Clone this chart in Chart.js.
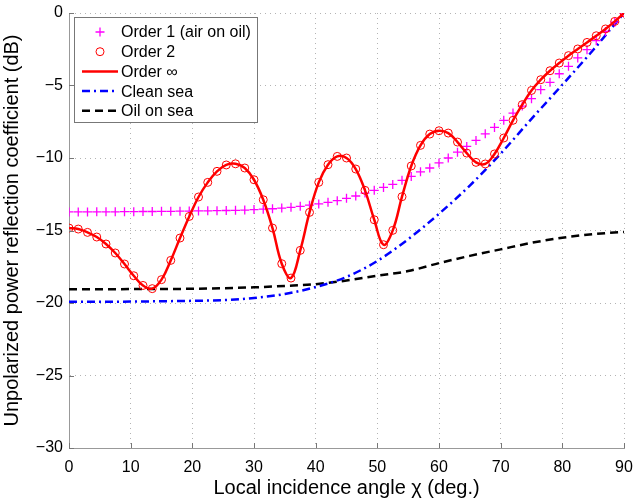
<!DOCTYPE html>
<html>
<head>
<meta charset="utf-8">
<script src="https://cdn.jsdelivr.net/npm/chart.js@4"></script>
<style>
    html, body { margin: 0; padding: 0; background: #fff; }
    #wrap { width: 633px; height: 500px; position: relative; }
</style>
</head>
<body>
<div id="wrap"><canvas id="reflchart" width="633" height="500"></canvas></div>
<script>
// incidence angles of the marker series (deg.)
const angles = [0, 1.5, 3, 4.5, 6, 7.5, 9, 10.5, 12, 13.5, 15, 16.5, 18, 19.5, 21, 22.5, 24, 25.5, 27, 28.5,
    30, 31.5, 33, 34.5, 36, 37.5, 39, 40.5, 42, 43.5, 45, 46.5, 48, 49.5, 51, 52.5, 54, 55.5, 57, 58.5,
    60, 61.5, 63, 64.5, 66, 67.5, 69, 70.5, 72, 73.5, 75, 76.5, 78, 79.5, 81, 82.5, 84, 85.5, 87, 88.5, 90];

const order1 = [-13.72, -13.72, -13.72, -13.71, -13.71, -13.71, -13.70, -13.70, -13.69, -13.69, -13.68, -13.68,
    -13.67, -13.66, -13.65, -13.64, -13.63, -13.62, -13.61, -13.59, -13.56, -13.53, -13.50, -13.45, -13.40,
    -13.33, -13.25, -13.17, -13.06, -12.94, -12.78, -12.62, -12.42, -12.23, -12.03, -11.82, -11.54, -11.27,
    -10.95, -10.69, -10.34, -10.00, -9.60, -9.20, -8.79, -8.33, -7.89, -7.40, -6.90, -6.42, -5.91, -5.29,
    -4.78, -4.19, -3.68, -3.10, -2.53, -1.91, -1.27, -0.63, 0];

const order2 = [-14.83, -14.90, -15.13, -15.45, -15.93, -16.55, -17.31, -18.12, -18.79, -19.01, -18.39, -17.06,
    -15.52, -14.03, -12.69, -11.68, -10.92, -10.48, -10.40, -10.69, -11.50, -12.88, -14.83, -17.29, -18.28,
    -16.37, -13.75, -11.68, -10.46, -9.89, -10.00, -10.76, -12.23, -14.26, -15.98, -14.99, -12.67, -10.55,
    -9.13, -8.35, -8.12, -8.28, -8.90, -9.66, -10.30, -10.41, -9.72, -8.62, -7.40, -6.32, -5.34, -4.60,
    -3.98, -3.45, -2.94, -2.48, -2.03, -1.57, -1.10, -0.58, 0];

// sea curves, read every 5 degrees
const seaAngles = [0, 5, 10, 15, 20, 25, 30, 35, 40, 45, 50, 55, 60, 65, 70, 75, 80, 85, 90];
const cleanSea = [-19.92, -19.92, -19.90, -19.88, -19.85, -19.80, -19.65, -19.38, -18.90, -18.20, -17.10, -15.60,
    -13.85, -11.90, -9.70, -7.30, -4.95, -2.55, 0];
const oilSea = [-19.05, -19.05, -19.04, -19.03, -19.02, -18.98, -18.92, -18.82, -18.70, -18.45, -18.12, -17.80,
    -17.25, -16.75, -16.30, -15.85, -15.50, -15.25, -15.10];

const xTicks = [0, 10, 20, 30, 40, 50, 60, 70, 80, 90];
const yTicks = [-30, -25, -20, -15, -10, -5, 0];

const pts = (xs, ys) => xs.map((x, i) => ({ x: x, y: ys[i] }));
const minus = v => (v < 0 ? '\u2212' + Math.abs(v) : String(v));

// MATLAB style legend box in the top left corner
const boxLegend = {
    id: 'boxLegend',
    afterDatasetsDraw(chart) {
        const ctx = chart.ctx;
        const a = chart.chartArea;
        const x0 = Math.round(a.left) + 5, y0 = Math.round(a.top) + 4;
        const w = 183, h = 105;
        ctx.save();
        ctx.fillStyle = '#fff';
        ctx.fillRect(x0, y0, w, h);
        ctx.strokeStyle = '#777';
        ctx.lineWidth = 1;
        ctx.strokeRect(x0 + 0.5, y0 + 0.5, w, h);
        ctx.font = '16px "Liberation Sans", Arial, sans-serif';
        ctx.textBaseline = 'middle';
        ctx.fillStyle = '#000';
        const sx = x0 + 26, lx1 = x0 + 8, lx2 = x0 + 44, tx = x0 + 47;
        chart.data.datasets.forEach((ds, i) => {
            const y = y0 + 15 + i * 19.7;
            ctx.save();
            ctx.strokeStyle = ds.borderColor;
            if (ds.showLine === false) {
                ctx.lineWidth = ds.pointBorderWidth;
                ctx.beginPath();
                if (ds.pointStyle === 'cross') {
                    ctx.moveTo(sx - 4.5, y); ctx.lineTo(sx + 4.5, y);
                    ctx.moveTo(sx, y - 4.5); ctx.lineTo(sx, y + 4.5);
                } else {
                    ctx.arc(sx, y, ds.pointRadius, 0, Math.PI * 2);
                }
                ctx.stroke();
            } else {
                ctx.lineWidth = ds.borderWidth;
                ctx.setLineDash(ds.borderDash || []);
                ctx.beginPath();
                ctx.moveTo(lx1, y); ctx.lineTo(lx2, y);
                ctx.stroke();
            }
            ctx.restore();
            ctx.fillText(ds.label, tx, y + 1);
        });
        ctx.restore();
    }
};

// small tick marks pointing into the plot
const inwardTicks = {
    id: 'inwardTicks',
    afterDraw(chart) {
        const { ctx, chartArea: a, scales } = chart;
        ctx.save();
        ctx.strokeStyle = '#777';
        ctx.lineWidth = 1;
        ctx.beginPath();
        scales.x.ticks.forEach(t => {
            const px = Math.round(scales.x.getPixelForValue(t.value)) + 0.5;
            ctx.moveTo(px, a.bottom); ctx.lineTo(px, a.bottom - 5);
        });
        scales.y.ticks.forEach(t => {
            const py = Math.round(scales.y.getPixelForValue(t.value)) + 0.5;
            ctx.moveTo(a.left, py); ctx.lineTo(a.left + 5, py);
        });
        ctx.stroke();
        ctx.restore();
    }
};

Chart.defaults.font.family = '"Liberation Sans", Arial, Helvetica, sans-serif';
Chart.defaults.font.size = 16;
Chart.defaults.color = '#000';

const ctx = document.getElementById('reflchart').getContext('2d');

const chart = new Chart(ctx, {
    type: 'line',
    data: {
        datasets: [
            {
                label: 'Order 1 (air on oil)',
                data: pts(angles, order1),
                showLine: false,
                borderColor: '#ff00ff',
                backgroundColor: '#ff00ff',
                pointStyle: 'cross',
                pointRadius: 4.5,
                pointBorderWidth: 1.3,
                order: 3
            },
            {
                label: 'Order 2',
                data: pts(angles, order2),
                showLine: false,
                borderColor: '#ff0000',
                backgroundColor: 'rgba(0,0,0,0)',
                pointStyle: 'circle',
                pointRadius: 4,
                pointBorderWidth: 1,
                order: 1
            },
            {
                label: 'Order \u221e',
                data: pts(angles, order2),
                borderColor: '#ff0000',
                borderWidth: 2.5,
                pointRadius: 0,
                tension: 0.4,
                order: 2
            },
            {
                label: 'Clean sea',
                data: pts(seaAngles, cleanSea),
                borderColor: '#0000ff',
                borderWidth: 2.5,
                borderDash: [8, 4, 2, 4],
                pointRadius: 0,
                cubicInterpolationMode: 'monotone',
                order: 4
            },
            {
                label: 'Oil on sea',
                data: pts(seaAngles, oilSea),
                borderColor: '#000000',
                borderWidth: 2.5,
                borderDash: [8, 5],
                pointRadius: 0,
                cubicInterpolationMode: 'monotone',
                order: 5
            }
        ]
    },
    options: {
        responsive: false,
        animation: false,
        layout: { padding: { top: 13, right: 9, left: 0, bottom: 0 } },
        plugins: {
            legend: { display: false },
            tooltip: { enabled: false }
        },
        scales: {
            x: {
                type: 'linear',
                min: 0,
                max: 90,
                afterBuildTicks: s => { s.ticks = xTicks.map(v => ({ value: v })); },
                afterFit: s => { s.height = 52; s.paddingLeft = 0; s.paddingRight = 0; },
                ticks: { padding: 10, font: { size: 16 } },
                grid: { color: '#b4b4b4', drawTicks: false },
                border: { color: '#999', width: 1, dash: [1, 4] },
                title: {
                    display: true,
                    text: 'Local incidence angle \u03c7 (deg.)',
                    font: { size: 20 },
                    padding: { top: 0, bottom: 0 }
                }
            },
            y: {
                type: 'linear',
                min: -30,
                max: 0,
                afterBuildTicks: s => { s.ticks = yTicks.map(v => ({ value: v })); },
                afterFit: s => { s.width = 69; s.paddingTop = 0; s.paddingBottom = 0; },
                ticks: { padding: 6, font: { size: 16 }, callback: v => minus(v) },
                grid: { color: '#b4b4b4', drawTicks: false },
                border: { color: '#999', width: 1, dash: [1, 4] },
                title: {
                    display: true,
                    text: 'Unpolarized power reflection coefficient (dB)',
                    font: { size: 20 },
                    padding: { top: 0, bottom: 0 }
                }
            }
        }
    },
    plugins: [boxLegend, inwardTicks]
});
</script>
</body>
</html>
